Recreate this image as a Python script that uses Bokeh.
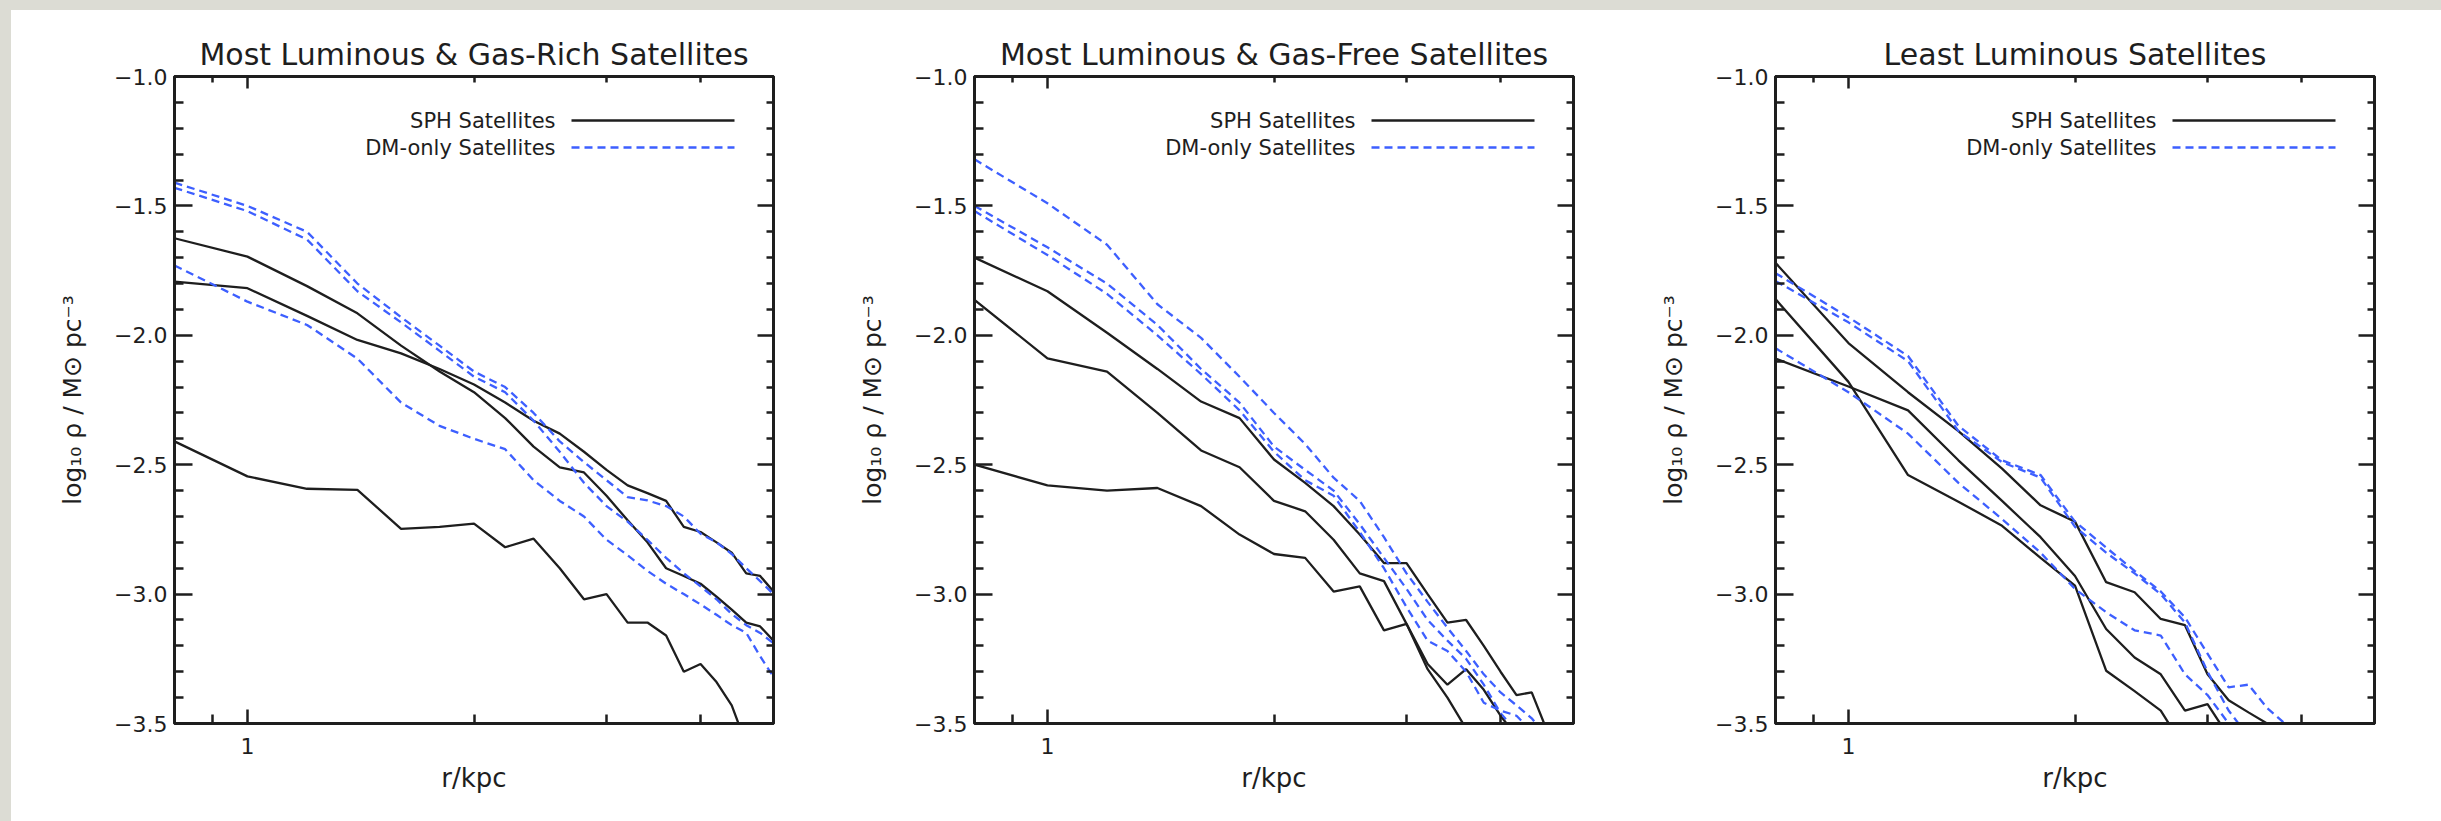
from bokeh.plotting import figure
from bokeh.models import (Range1d, FixedTicker, LinearAxis, LogAxis, Label,
                          CustomJSTickFormatter, Div)
from bokeh.layouts import row, column
from bokeh.embed import file_html
from bokeh.resources import INLINE

# ---------------- data ----------------
radius_kpc = [0.8, 1.0, 1.2, 1.4, 1.6, 1.8, 2.0, 2.2, 2.4, 2.6, 2.8,
              3.0, 3.2, 3.4, 3.6, 3.8, 4.0, 4.2, 4.4, 4.6, 4.8, 5.0]

panel_titles = ["Most Luminous & Gas-Rich Satellites",
                "Most Luminous & Gas-Free Satellites",
                "Least Luminous Satellites"]

# panel 1 : most luminous & gas-rich
sph_rich_1 = [-1.625, -1.696, -1.81, -1.915, -2.04, -2.14, -2.22, -2.32, -2.43, -2.51, -2.53,
              -2.62, -2.715, -2.80, -2.90, -2.93, -2.96, -3.01, -3.06, -3.11, -3.125, -3.18]
sph_rich_2 = [-1.793, -1.818, -1.925, -2.018, -2.07, -2.13, -2.19, -2.26, -2.33, -2.38, -2.45,
              -2.52, -2.58, -2.61, -2.64, -2.74, -2.76, -2.80, -2.84, -2.92, -2.93, -2.99]
sph_rich_3 = [-2.41, -2.545, -2.593, -2.597, -2.748, -2.74, -2.728, -2.819, -2.786, -2.90, -3.02,
              -3.00, -3.11, -3.11, -3.16, -3.30, -3.27, -3.34, -3.43, -3.58]
dm_rich_1 = [-1.41, -1.50, -1.60, -1.80, -1.93, -2.04, -2.14, -2.20, -2.30, -2.41, -2.49,
             -2.56, -2.625, -2.638, -2.66, -2.70, -2.767, -2.80, -2.845, -2.90, -2.95, -3.00]
dm_rich_2 = [-1.43, -1.52, -1.63, -1.83, -1.95, -2.06, -2.16, -2.22, -2.33, -2.45, -2.57,
             -2.66, -2.72, -2.79, -2.86, -2.92, -2.97, -3.02, -3.077, -3.12, -3.15, -3.19]
dm_rich_3 = [-1.73, -1.87, -1.96, -2.09, -2.26, -2.35, -2.40, -2.44, -2.56, -2.64, -2.70,
             -2.79, -2.85, -2.91, -2.96, -3.00, -3.04, -3.08, -3.12, -3.15, -3.24, -3.32]

# panel 2 : most luminous & gas-free
sph_free_1 = [-1.70, -1.83, -1.99, -2.13, -2.256, -2.32, -2.48, -2.57, -2.66, -2.77, -2.88,
              -2.88, -3.00, -3.11, -3.10, -3.20, -3.30, -3.39, -3.38, -3.52]
sph_free_2 = [-1.863, -2.089, -2.14, -2.30, -2.445, -2.51, -2.64, -2.68, -2.79, -2.92, -2.95,
              -3.115, -3.27, -3.35, -3.29, -3.37, -3.47, -3.55]
sph_free_3 = [-2.50, -2.58, -2.60, -2.59, -2.66, -2.77, -2.845, -2.86, -2.99, -2.97, -3.14,
              -3.115, -3.29, -3.40, -3.52]
dm_free_1 = [-1.32, -1.49, -1.65, -1.88, -2.01, -2.16, -2.30, -2.42, -2.55, -2.64, -2.78,
             -2.92, -3.03, -3.13, -3.22, -3.31, -3.38, -3.43, -3.48, -3.55]
dm_free_2 = [-1.50, -1.66, -1.80, -1.96, -2.13, -2.26, -2.43, -2.52, -2.60, -2.73, -2.86,
             -2.98, -3.10, -3.18, -3.25, -3.35, -3.46, -3.53]
dm_free_3 = [-1.52, -1.69, -1.84, -2.00, -2.15, -2.29, -2.45, -2.56, -2.62, -2.76, -2.90,
             -3.05, -3.18, -3.22, -3.30, -3.42, -3.45, -3.47, -3.53]

# panel 3 : least luminous
sph_least_1 = [-1.72, -2.03, -2.22, -2.37, -2.515, -2.657, -2.72, -2.954, -2.993, -3.096, -3.12,
               -3.31, -3.41, -3.457, -3.50, -3.56]
sph_least_2 = [-1.86, -2.18, -2.54, -2.643, -2.736, -2.86, -2.967, -3.296, -3.375, -3.45, -3.60]
sph_least_3 = [-2.09, -2.198, -2.29, -2.483, -2.64, -2.78, -2.93, -3.135, -3.245, -3.31, -3.45,
               -3.425, -3.55]
dm_least_1 = [-1.76, -1.93, -2.08, -2.35, -2.483, -2.54, -2.72, -2.82, -2.91, -2.99, -3.09,
              -3.23, -3.36, -3.35, -3.44, -3.50, -3.55]
dm_least_2 = [-1.79, -1.95, -2.10, -2.37, -2.49, -2.55, -2.74, -2.84, -2.92, -3.00, -3.11,
              -3.30, -3.45, -3.55]
dm_least_3 = [-2.05, -2.22, -2.38, -2.57, -2.71, -2.84, -2.98, -3.07, -3.14, -3.16, -3.31,
              -3.39, -3.50, -3.56]

sph_sets = [[sph_rich_1, sph_rich_2, sph_rich_3],
            [sph_free_1, sph_free_2, sph_free_3],
            [sph_least_1, sph_least_2, sph_least_3]]
dm_sets = [[dm_rich_1, dm_rich_2, dm_rich_3],
           [dm_free_1, dm_free_2, dm_free_3],
           [dm_least_1, dm_least_2, dm_least_3]]

legend_labels = ["SPH Satellites", "DM-only Satellites"]
x_major_ticks = [1]
x_minor_ticks = [0.9, 2, 3, 4]
y_major_ticks = [-3.5, -3.0, -2.5, -2.0, -1.5, -1.0]
y_minor_ticks = [-3.4, -3.3, -3.2, -3.1, -2.9, -2.8, -2.7, -2.6, -2.4, -2.3, -2.2, -2.1,
                 -1.9, -1.8, -1.7, -1.6, -1.4, -1.3, -1.2, -1.1]
x_label = "r/kpc"
y_label = "log\u2081\u2080 \u03c1 / M\u2299 pc\u207b\u00b3"

# ---------------- style ----------------
FONT = "DejaVu Sans"
INK = "#1e1e1e"
BLUE = "#3d5fff"
GREY = "#dcdcd4"
DASH = "8 5"
X_MIN, X_MAX = 0.8, 5.0
Y_MIN, Y_MAX = -3.5, -1.0
FIG_H = 811
TOP, BOTTOM = 66, 98
FRAME_W, FRAME_H = 599, 647


def style_axis(ax, major_in, minor_in):
    ax.major_tick_in = major_in
    ax.major_tick_out = 0
    ax.minor_tick_in = minor_in
    ax.minor_tick_out = 0
    ax.axis_line_width = 3
    ax.axis_line_color = INK
    ax.major_tick_line_width = 2.5
    ax.minor_tick_line_width = 2.5
    ax.major_tick_line_color = INK
    ax.minor_tick_line_color = INK
    ax.major_label_text_font = FONT
    ax.major_label_text_font_size = "22px"
    ax.major_label_text_color = INK
    ax.axis_label_text_font = FONT
    ax.axis_label_text_font_style = "normal"
    ax.axis_label_text_color = INK


def make_panel(idx, width, left, right):
    p = figure(width=width, height=FIG_H, x_axis_type="log",
               x_range=Range1d(X_MIN, X_MAX), y_range=Range1d(Y_MIN, Y_MAX),
               output_backend="svg", toolbar_location=None,
               min_border_left=left, min_border_right=right,
               min_border_top=TOP, min_border_bottom=BOTTOM)
    p.background_fill_color = "white"
    p.border_fill_color = "white"
    p.outline_line_color = INK
    p.outline_line_width = 3
    p.xgrid.visible = False
    p.ygrid.visible = False

    p.title.text = panel_titles[idx]
    p.title.text_font = FONT
    p.title.text_font_size = "30px"
    p.title.text_font_style = "normal"
    p.title.text_color = INK
    p.title.align = "center"
    p.title.standoff = 9

    xt = FixedTicker(ticks=x_major_ticks, minor_ticks=x_minor_ticks)
    yt = FixedTicker(ticks=y_major_ticks, minor_ticks=y_minor_ticks)

    xa = p.xaxis[0]
    xa.ticker = xt
    xa.formatter = CustomJSTickFormatter(code="return tick.toFixed(0)")
    style_axis(xa, 14, 9)
    xa.major_label_standoff = 14
    xa.axis_label = x_label
    xa.axis_label_text_font_size = "26px"
    xa.axis_label_standoff = 6

    ya = p.yaxis[0]
    ya.ticker = yt
    ya.formatter = CustomJSTickFormatter(
        code="return tick.toFixed(1).replace('-', '\\u2212')")
    style_axis(ya, 18, 9)
    ya.major_label_standoff = 7
    ya.axis_label = y_label
    ya.axis_label_text_font_size = "25px"
    ya.axis_label_standoff = 24

    blank = "return ''"
    top = LogAxis(ticker=xt, formatter=CustomJSTickFormatter(code=blank))
    style_axis(top, 12, 6)
    top.major_label_standoff = 0
    p.add_layout(top, "above")
    rgt = LinearAxis(ticker=yt, formatter=CustomJSTickFormatter(code=blank))
    style_axis(rgt, 16, 7)
    rgt.major_label_standoff = 0
    p.add_layout(rgt, "right")

    for vals in sph_sets[idx]:
        p.line(radius_kpc[:len(vals)], vals, line_color=INK, line_width=2.3)
    for vals in dm_sets[idx]:
        p.line(radius_kpc[:len(vals)], vals, line_color=BLUE, line_width=2.3,
               line_dash=DASH)

    # legend (text on the left, key line on the right, as in the original)
    text_right = 381
    key_x0, key_x1 = 397 / FRAME_W, 560 / FRAME_W
    rows_from_bottom = [603, 576]
    styles = [dict(line_color=INK, line_dash="solid"),
              dict(line_color=BLUE, line_dash=DASH)]
    for lab, yb, st in zip(legend_labels, rows_from_bottom, styles):
        p.add_layout(Label(x=text_right, y=yb, x_units="screen", y_units="screen",
                           text=lab, text_align="right", text_baseline="middle",
                           text_font=FONT, text_font_size="21px",
                           text_color=INK))
        yv = Y_MIN + (Y_MAX - Y_MIN) * yb / FRAME_H
        xa0 = X_MIN * (X_MAX / X_MIN) ** key_x0
        xa1 = X_MIN * (X_MAX / X_MIN) ** key_x1
        p.segment(x0=[xa0], y0=[yv], x1=[xa1], y1=[yv], line_width=2.6, **st)
    return p


p1 = make_panel(0, 809, 163, 47)
p2 = make_panel(1, 800, 154, 47)
p3 = make_panel(2, 821, 155, 67)

top_strip = Div(text="", width=2441, height=10, margin=0,
                styles={"background-color": GREY})
left_strip = Div(text="", width=11, height=FIG_H, margin=0,
                 styles={"background-color": GREY})

layout = column(top_strip, row(left_strip, p1, p2, p3, spacing=0), spacing=0)

open("out.html", "w").write(file_html(layout, INLINE))
